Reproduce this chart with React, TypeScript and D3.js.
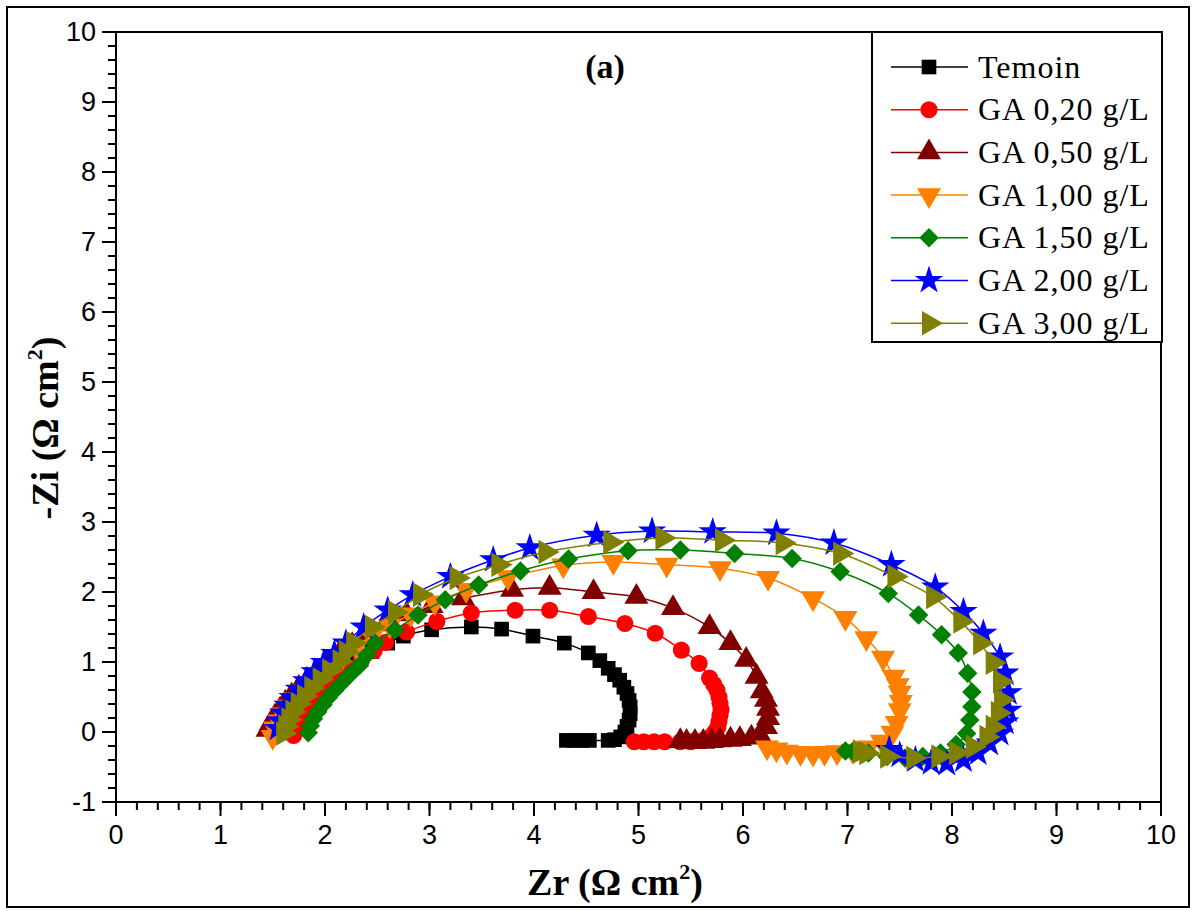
import React from 'react';
import * as d3 from 'd3';

// Nyquist data, [Zr, -Zi] in ohm cm2
const temoin = [
  [1.55, -0.02], [1.58, 0.08], [1.62, 0.18], [1.67, 0.29], [1.73, 0.4], [1.8, 0.5], [1.88, 0.6],
  [1.97, 0.7], [2.07, 0.8], [2.18, 0.91], [2.31, 1.03], [2.45, 1.15], [2.6, 1.27], [2.75, 1.37],
  [3.02, 1.46], [3.4, 1.5], [3.69, 1.47], [3.99, 1.37], [4.29, 1.27], [4.52, 1.13], [4.63, 1.02],
  [4.71, 0.91], [4.77, 0.82], [4.82, 0.74], [4.86, 0.64], [4.89, 0.55], [4.91, 0.45], [4.92, 0.36],
  [4.92, 0.26], [4.91, 0.17], [4.89, 0.08], [4.87, 0.0], [4.83, -0.07], [4.77, -0.11], [4.71, -0.12],
  [4.53, -0.12], [4.46, -0.12], [4.38, -0.12], [4.31, -0.12],
];
const ga020 = [
  [1.7, -0.05], [1.72, 0.05], [1.75, 0.15], [1.79, 0.25], [1.84, 0.35], [1.9, 0.45], [1.97, 0.56],
  [2.05, 0.67], [2.14, 0.78], [2.24, 0.9], [2.35, 1.03], [2.47, 1.16], [2.58, 1.28], [2.78, 1.43],
  [3.07, 1.58], [3.4, 1.7], [3.82, 1.74], [4.15, 1.74], [4.52, 1.65], [4.87, 1.55], [5.16, 1.41],
  [5.41, 1.17], [5.58, 0.98], [5.68, 0.77], [5.72, 0.68], [5.75, 0.6], [5.77, 0.5], [5.78, 0.41],
  [5.79, 0.32], [5.78, 0.24], [5.77, 0.15], [5.76, 0.07], [5.73, 0.0], [5.69, -0.07], [5.62, -0.12],
  [5.5, -0.14], [5.4, -0.14], [5.25, -0.14], [5.15, -0.14], [5.05, -0.14], [4.96, -0.14],
];
const ga050 = [
  [1.45, 0.03], [1.48, 0.12], [1.52, 0.22], [1.57, 0.32], [1.62, 0.42], [1.68, 0.52], [1.75, 0.63],
  [1.83, 0.74], [1.92, 0.86], [2.02, 0.98], [2.13, 1.1], [2.26, 1.24], [2.41, 1.39], [2.58, 1.54],
  [2.78, 1.68], [3.02, 1.8], [3.32, 1.91], [3.79, 2.03], [4.15, 2.06], [4.57, 2.0], [4.98, 1.93],
  [5.33, 1.77], [5.68, 1.5], [5.88, 1.27], [6.03, 1.03], [6.13, 0.79], [6.18, 0.58], [6.22, 0.46],
  [6.24, 0.33], [6.24, 0.2], [6.22, 0.07], [6.16, -0.04], [6.08, -0.08], [5.97, -0.1], [5.88, -0.11],
  [5.78, -0.12], [5.7, -0.13], [5.62, -0.14], [5.54, -0.14], [5.46, -0.14], [5.4, -0.13],
];
const ga100 = [
  [1.5, -0.07], [1.52, 0.05], [1.56, 0.15], [1.6, 0.25], [1.65, 0.36], [1.71, 0.47], [1.78, 0.58],
  [1.86, 0.7], [1.95, 0.82], [2.05, 0.95], [2.17, 1.08], [2.3, 1.22], [2.45, 1.37], [2.62, 1.52],
  [2.82, 1.68], [3.05, 1.85], [3.35, 2.03], [3.75, 2.21], [4.28, 2.38], [4.76, 2.43], [5.27, 2.39],
  [5.78, 2.34], [6.24, 2.2], [6.67, 1.91], [6.98, 1.63], [7.18, 1.34], [7.34, 1.06], [7.44, 0.79],
  [7.48, 0.67], [7.5, 0.56], [7.51, 0.43], [7.5, 0.31], [7.47, 0.13], [7.43, -0.01], [7.33, -0.14],
  [7.2, -0.22], [7.05, -0.27], [6.9, -0.29], [6.78, -0.3], [6.67, -0.31], [6.55, -0.3], [6.42, -0.28],
  [6.32, -0.25], [6.23, -0.22],
];
const ga150 = [
  [1.84, -0.01], [1.86, 0.09], [1.89, 0.19], [1.93, 0.29], [1.98, 0.39], [2.03, 0.49], [2.09, 0.59],
  [2.16, 0.7], [2.24, 0.82], [2.33, 0.95], [2.4, 1.1], [2.48, 1.27], [2.67, 1.46], [2.89, 1.67],
  [3.15, 1.89], [3.47, 2.1], [3.87, 2.3], [4.33, 2.47], [4.9, 2.59], [5.4, 2.6], [5.92, 2.55],
  [6.47, 2.48], [6.93, 2.29], [7.39, 1.98], [7.68, 1.67], [7.9, 1.39], [8.06, 1.13], [8.15, 0.84],
  [8.19, 0.57], [8.19, 0.36], [8.17, 0.17], [8.14, -0.02], [8.04, -0.18], [7.89, -0.3], [7.72, -0.35],
  [7.55, -0.37], [7.38, -0.35], [7.2, -0.3], [7.05, -0.28], [6.98, -0.27],
];
const ga200 = [
  [1.55, 0.05], [1.57, 0.16], [1.6, 0.27], [1.64, 0.38], [1.69, 0.49], [1.75, 0.61], [1.82, 0.73],
  [1.9, 0.86], [1.99, 0.99], [2.09, 1.12], [2.2, 1.27], [2.37, 1.5], [2.6, 1.74], [2.84, 1.96],
  [3.2, 2.22], [3.61, 2.46], [3.96, 2.63], [4.6, 2.81], [5.13, 2.87], [5.71, 2.86], [6.32, 2.84],
  [6.87, 2.7], [7.42, 2.39], [7.84, 2.07], [8.11, 1.72], [8.3, 1.41], [8.46, 1.07], [8.51, 0.84],
  [8.54, 0.56], [8.54, 0.31], [8.51, 0.14], [8.46, -0.02], [8.36, -0.16], [8.25, -0.3], [8.11, -0.4],
  [7.95, -0.45], [7.8, -0.44], [7.65, -0.4], [7.5, -0.33], [7.4, -0.25],
];
const ga300 = [
  [1.6, -0.02], [1.62, 0.08], [1.65, 0.18], [1.69, 0.29], [1.74, 0.4], [1.8, 0.51], [1.87, 0.63],
  [1.95, 0.75], [2.04, 0.88], [2.14, 1.01], [2.2, 1.14], [2.27, 1.27], [2.45, 1.5], [2.67, 1.71],
  [2.91, 1.96], [3.26, 2.2], [3.66, 2.39], [4.11, 2.57], [4.73, 2.71], [5.23, 2.77], [5.8, 2.74],
  [6.38, 2.7], [6.93, 2.55], [7.45, 2.22], [7.82, 1.93], [8.08, 1.58], [8.27, 1.27], [8.39, 0.99],
  [8.46, 0.72], [8.47, 0.46], [8.44, 0.27], [8.39, 0.07], [8.33, -0.07], [8.2, -0.21], [8.04, -0.3],
  [7.87, -0.35], [7.63, -0.37], [7.38, -0.35], [7.18, -0.3], [7.12, -0.28],
];

const seriesNames = ['Temoin', 'GA 0,20 g/L', 'GA 0,50 g/L', 'GA 1,00 g/L', 'GA 1,50 g/L', 'GA 2,00 g/L', 'GA 3,00 g/L'];
const seriesData = [temoin, ga020, ga050, ga100, ga150, ga200, ga300];
const xTickLabels = [0, 1, 2, 3, 4, 5, 6, 7, 8, 9, 10];
const yTickLabels = [-1, 0, 1, 2, 3, 4, 5, 6, 7, 8, 9, 10];

const colors = ['#000000', '#ff0000', '#800000', '#ff8000', '#008000', '#0000ff', '#808000'];
const markers = [
  { type: d3.symbolSquare, size: 215, rot: 0 },
  { type: d3.symbolCircle, size: 230, rot: 0 },
  { type: d3.symbolTriangle, size: 250, rot: 0 },
  { type: d3.symbolTriangle, size: 250, rot: 180 },
  { type: d3.symbolSquare, size: 190, rot: 45 },
  { type: d3.symbolStar, size: 250, rot: 0 },
  { type: d3.symbolTriangle, size: 260, rot: 90 },
];

const W = 1196;
const H = 912;
const left = 116, right = 1161, top = 32, bottom = 802;

export default function App() {
  const x = d3.scaleLinear().domain([0, 10]).range([left, right]);
  const y = d3.scaleLinear().domain([-1, 10]).range([bottom, top]);
  const line = d3.line<number[]>()
    .x(d => x(d[0]))
    .y(d => y(d[1]))
    .curve(d3.curveCatmullRom.alpha(0.5));

  const xMinor = d3.range(0, 10.001, 0.2);
  const yMinor = d3.range(-1, 10.001, 0.2);
  const serif = '"Liberation Serif", "Times New Roman", serif';
  const sans = '"Liberation Sans", Arial, sans-serif';

  const legX = 872, legY = 32, legW = 290, legH = 310;

  return (
    <svg width={W} height={H} style={{ position: 'absolute', left: 0, top: 0, background: '#fff' }}>
      <rect x={7} y={7} width={W - 14} height={H - 12} fill="#fff" stroke="#000" strokeWidth={2} />

      {/* series */}
      {seriesData.map((data, i) => {
        const sym = d3.symbol().type(markers[i].type).size(markers[i].size)();
        return (
          <g key={seriesNames[i]}>
            <path d={line(data) || ''} fill="none" stroke={colors[i]} strokeWidth={1.5} />
            {data.map((d, j) => (
              <path key={j} d={sym || ''} fill={colors[i]}
                transform={`translate(${x(d[0])},${y(d[1])}) rotate(${markers[i].rot})`} />
            ))}
          </g>
        );
      })}

      {/* frame */}
      <rect x={left} y={top} width={right - left} height={bottom - top} fill="none" stroke="#000" strokeWidth={2} />

      {/* x ticks */}
      {xMinor.map((v, i) => (
        <line key={'xm' + i} x1={x(v)} x2={x(v)} y1={bottom} y2={bottom + 8} stroke="#000" strokeWidth={2} />
      ))}
      {xTickLabels.map(v => (
        <g key={'xt' + v}>
          <line x1={x(v)} x2={x(v)} y1={bottom} y2={bottom + 14} stroke="#000" strokeWidth={2} />
          <text x={x(v)} y={bottom + 42} textAnchor="middle" fontFamily={sans} fontSize={27}>{v}</text>
        </g>
      ))}

      {/* y ticks */}
      {yMinor.map((v, i) => (
        <line key={'ym' + i} x1={left - 8} x2={left} y1={y(v)} y2={y(v)} stroke="#000" strokeWidth={2} />
      ))}
      {yTickLabels.map(v => (
        <g key={'yt' + v}>
          <line x1={left - 14} x2={left} y1={y(v)} y2={y(v)} stroke="#000" strokeWidth={2} />
          <text x={left - 20} y={y(v)} dy="0.35em" textAnchor="end" fontFamily={sans} fontSize={27}>{v}</text>
        </g>
      ))}

      {/* axis titles */}
      <text x={615} y={895} textAnchor="middle" fontFamily={serif} fontWeight="bold" fontSize={38}>
        Zr (Ω cm<tspan dy={-16} fontSize={22}>2</tspan><tspan dy={16}>)</tspan>
      </text>
      <text transform={`translate(58,428) rotate(-90)`} textAnchor="middle" fontFamily={serif} fontWeight="bold" fontSize={38}>
        -Zi (Ω cm<tspan dy={-16} fontSize={22}>2</tspan><tspan dy={16}>)</tspan>
      </text>

      <text x={605} y={78} textAnchor="middle" fontFamily={serif} fontWeight="bold" fontSize={34}>(a)</text>

      {/* legend */}
      <rect x={legX} y={legY} width={legW} height={legH} fill="#fff" stroke="#000" strokeWidth={2} />
      {seriesNames.map((name, i) => {
        const ly = 67 + i * 42.7;
        const sym = d3.symbol().type(markers[i].type).size(markers[i].size)();
        return (
          <g key={'lg' + i}>
            <line x1={891} x2={968} y1={ly} y2={ly} stroke={colors[i]} strokeWidth={1.5} />
            <path d={sym || ''} fill={colors[i]} transform={`translate(929,${ly}) rotate(${markers[i].rot})`} />
            <text x={978} y={ly} dy="0.33em" fontFamily={serif} fontSize={32} letterSpacing={1}>{name}</text>
          </g>
        );
      })}
    </svg>
  );
}
